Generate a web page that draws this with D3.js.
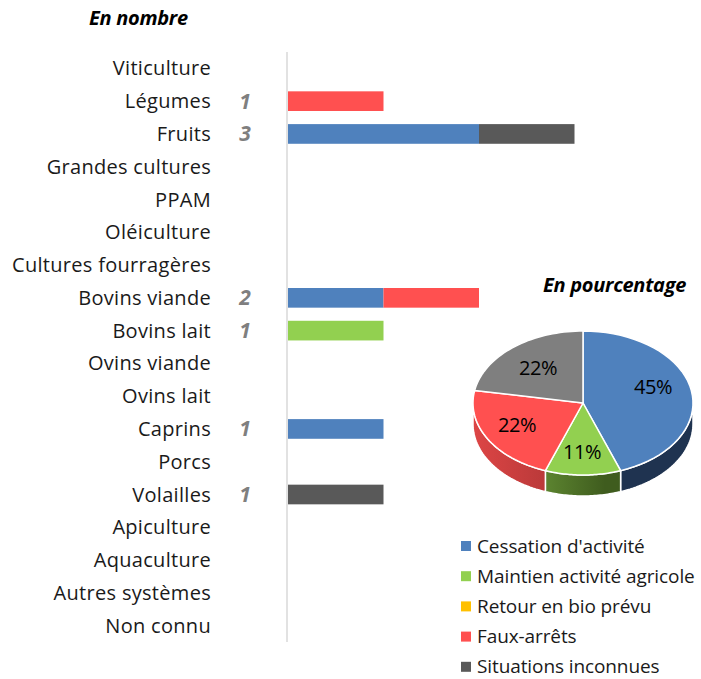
<html>
<head>
<meta charset="utf-8">
<script src="https://d3js.org/d3.v7.min.js"></script>
<style>
  body { margin: 0; background: #fff; }
  text { font-family: "Open Sans", sans-serif; }
</style>
</head>
<body>
<svg id="chart" width="701" height="679"></svg>
<script>
    // categories, top to bottom
    var categories = ["Viticulture", "Légumes", "Fruits", "Grandes cultures", "PPAM", "Oléiculture",
        "Cultures fourragères", "Bovins viande", "Bovins lait", "Ovins viande", "Ovins lait",
        "Caprins", "Porcs", "Volailles", "Apiculture", "Aquaculture", "Autres systèmes", "Non connu"];

    var seriesNames = ["Cessation d'activité", "Maintien activité agricole", "Retour en bio prévu",
        "Faux-arrêts", "Situations inconnues"];
    var barColors = ["#4f81bd", "#92d050", "#ffc000", "#ff5050", "#595959"];

    // counts per category, one array per series
    var cessation = [0, 0, 2, 0, 0, 0, 0, 1, 0, 0, 0, 1, 0, 0, 0, 0, 0, 0];
    var maintien  = [0, 0, 0, 0, 0, 0, 0, 0, 1, 0, 0, 0, 0, 0, 0, 0, 0, 0];
    var retour    = [0, 0, 0, 0, 0, 0, 0, 0, 0, 0, 0, 0, 0, 0, 0, 0, 0, 0];
    var fauxArrets= [0, 1, 0, 0, 0, 0, 0, 1, 0, 0, 0, 0, 0, 0, 0, 0, 0, 0];
    var inconnues = [0, 0, 1, 0, 0, 0, 0, 0, 0, 0, 0, 0, 0, 1, 0, 0, 0, 0];

    // pie: values and the labels as shown
    var pieValues = [4, 1, 0, 2, 2];
    var pieLabels = ["45%", "11%", "", "22%", "22%"];
    var pieColors = ["#4f81bd", "#92d050", "#ffc000", "#ff5050", "#7f7f7f"];
    var pieSides  = ["#1f3350", "#3f5c1e", "#8a6a00", "#9e3030", "#4a4a4a"];

    var svg = d3.select("#chart");

    var series = [cessation, maintien, retour, fauxArrets, inconnues];
    var rows = categories.map(function(c, i) {
        var r = {cat: c};
        seriesNames.forEach(function(s, j) { r[s] = series[j][i]; });
        r.total = d3.sum(series, function(a) { return a[i]; });
        return r;
    });

    var y = d3.scaleBand().domain(categories).range([52, 642]).paddingInner(0.4).paddingOuter(0.2);
    var x = d3.scaleLinear().domain([0, 1]).range([288, 383.5]);

    svg.append("text")
        .attr("x", 89).attr("y", 25)
        .style("font-weight", "bold").style("font-style", "italic")
        .style("font-size", "20px")
        .style("letter-spacing", "-0.3px")
        .text("En nombre");

    // category labels
    svg.selectAll(".cat")
        .data(categories)
        .enter()
        .append("text")
        .attr("class", "cat")
        .attr("x", 211)
        .attr("y", function(d) { return y(d) + y.bandwidth() / 2; })
        .attr("dy", "0.35em")
        .attr("text-anchor", "end")
        .style("font-size", "20px")
        .style("letter-spacing", "0.3px")
        .attr("fill", "#1a1a1a")
        .text(function(d) { return d; });

    // totals
    svg.selectAll(".tot")
        .data(rows.filter(function(r) { return r.total > 0; }))
        .enter()
        .append("text")
        .attr("class", "tot")
        .attr("x", 245)
        .attr("y", function(d) { return y(d.cat) + y.bandwidth() / 2; })
        .attr("dy", "0.35em")
        .attr("text-anchor", "middle")
        .style("font-size", "21px")
        .style("font-weight", "bold").style("font-style", "italic")
        .attr("fill", "#7f7f7f")
        .text(function(d) { return d.total; });

    var stack = d3.stack().keys(seriesNames)(rows);

    svg.selectAll(".layer")
        .data(stack)
        .enter()
        .append("g")
        .attr("fill", function(d, i) { return barColors[i]; })
        .selectAll("rect")
        .data(function(d) { return d.filter(function(p) { return p[1] > p[0]; }); })
        .enter()
        .append("rect")
        .attr("x", function(d) { return x(d[0]); })
        .attr("width", function(d) { return x(d[1]) - x(d[0]); })
        .attr("y", function(d) { return y(d.data.cat); })
        .attr("height", y.bandwidth());

    // axis line
    svg.append("line")
        .attr("x1", 287).attr("x2", 287)
        .attr("y1", 52).attr("y2", 642)
        .attr("stroke", "#d9d9d9").attr("stroke-width", 1.5);

    // ----- 3D pie -----
    var cx = 583, cy = 403, rx = 110, ry = 72, depth = 21;
    var pie = d3.pie().sort(null).value(function(d) { return d; });
    var arcs = pie(pieValues);

    function pt(a, dy) {
        return [cx + rx * Math.sin(a), cy - ry * Math.cos(a) + (dy || 0)];
    }
    function topPath(d) {
        var p = "M" + cx + "," + cy, n = 40;
        for (var k = 0; k <= n; k++) {
            var a = d.startAngle + (d.endAngle - d.startAngle) * k / n;
            p += "L" + pt(a).join(",");
        }
        return p + "Z";
    }
    function sidePath(d) {
        var a0 = Math.max(d.startAngle, Math.PI / 2), a1 = Math.min(d.endAngle, Math.PI * 1.5);
        if (a1 <= a0) return null;
        var n = 40, p = "", k, a;
        for (k = 0; k <= n; k++) {
            a = a0 + (a1 - a0) * k / n;
            p += (k ? "L" : "M") + pt(a).join(",");
        }
        for (k = n; k >= 0; k--) {
            a = a0 + (a1 - a0) * k / n;
            p += "L" + pt(a, depth).join(",");
        }
        return p + "Z";
    }

    var defs = svg.append("defs");
    arcs.forEach(function(d, i) {
        var g = defs.append("linearGradient").attr("id", "side" + i)
            .attr("gradientUnits", "userSpaceOnUse")
            .attr("x1", cx - rx).attr("x2", cx + rx).attr("y1", 0).attr("y2", 0);
        g.append("stop").attr("offset", "0").attr("stop-color", d3.color(pieColors[i]).darker(0.4));
        g.append("stop").attr("offset", "0.6").attr("stop-color", pieSides[i]);
        g.append("stop").attr("offset", "1").attr("stop-color", pieSides[i]);
    });

    svg.append("g").selectAll("path")
        .data(arcs.filter(function(d) { return d.value > 0 && sidePath(d); }))
        .enter()
        .append("path")
        .attr("d", sidePath)
        .attr("fill", function(d) { return "url(#side" + d.index + ")"; })
        .attr("stroke", "#fff").attr("stroke-width", 1.5);

    svg.append("g").selectAll("path")
        .data(arcs.filter(function(d) { return d.value > 0; }))
        .enter()
        .append("path")
        .attr("d", topPath)
        .attr("fill", function(d) { return pieColors[d.index]; })
        .attr("stroke", "#fff").attr("stroke-width", 1.5).attr("stroke-linejoin", "round");

    var labelPos = [[653, 387], [582, 452], [0, 0], [517, 425], [538, 368]];
    svg.append("g").selectAll("text")
        .data(arcs.filter(function(d) { return d.value > 0; }))
        .enter()
        .append("text")
        .attr("x", function(d) { return labelPos[d.index][0]; })
        .attr("y", function(d) { return labelPos[d.index][1]; })
        .attr("dy", "0.35em")
        .attr("text-anchor", "middle")
        .style("font-size", "20px")
        .style("letter-spacing", "-0.5px")
        .attr("fill", "#000")
        .text(function(d) { return pieLabels[d.index]; });

    svg.append("text")
        .attr("x", 686).attr("y", 292)
        .attr("text-anchor", "end")
        .style("font-weight", "bold").style("font-style", "italic")
        .style("font-size", "20px")
        .style("letter-spacing", "-0.3px")
        .text("En pourcentage");

    // legend
    var leg = svg.append("g").selectAll("g")
        .data(seriesNames)
        .enter()
        .append("g")
        .attr("transform", function(d, i) { return "translate(461," + (546 + i * 30.2) + ")"; });
    leg.append("rect")
        .attr("x", 0).attr("y", -5).attr("width", 10).attr("height", 10)
        .attr("fill", function(d, i) { return barColors[i]; });
    leg.append("text")
        .attr("x", 16).attr("dy", "0.35em")
        .style("font-size", "19px")
        .style("letter-spacing", "-0.1px")
        .attr("fill", "#1a1a1a")
        .text(function(d) { return d; });
</script>
</body>
</html>
